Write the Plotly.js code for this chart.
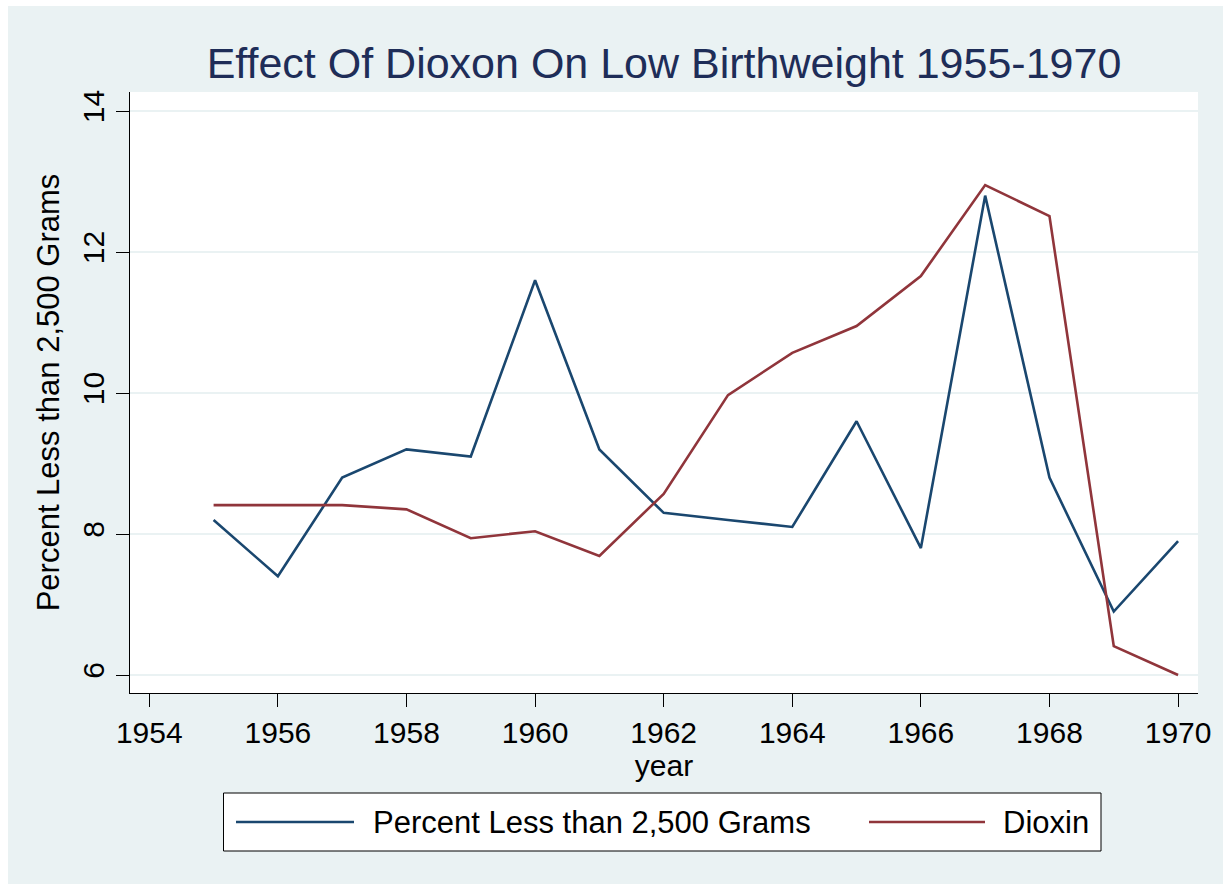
<!DOCTYPE html>
<html>
<head>
<meta charset="utf-8">
<script src="https://cdn.plot.ly/plotly-3.0.1.min.js"></script>
<style>
  html, body { margin: 0; padding: 0; background: #ffffff; }
  #chart { position: absolute; left: 8px; top: 6px; width: 1215px; height: 878px; }
</style>
</head>
<body>
<div id="chart"></div>
<script>
// ---- data ----
const years = [1955, 1956, 1957, 1958, 1959, 1960, 1961, 1962, 1963, 1964, 1965, 1966, 1967, 1968, 1969, 1970];
const pctLowBirthweight = [8.2, 7.4, 8.8, 9.2, 9.1, 11.6, 9.2, 8.3, 8.2, 8.1, 9.6, 7.8, 12.8, 8.8, 6.9, 7.9];
const dioxin = [8.41, 8.41, 8.41, 8.35, 7.94, 8.04, 7.69, 8.57, 9.97, 10.57, 10.95, 11.66, 12.95, 12.51, 6.41, 6.0];
const seriesNames = ["Percent Less than 2,500 Grams", "Dioxin"];
const seriesColors = ["#1a476f", "#90353b"];
const yTickVals = [6, 8, 10, 12, 14];
const xTickVals = [1954, 1956, 1958, 1960, 1962, 1964, 1966, 1968, 1970];
const chartTitle = "Effect Of Dioxon On Low Birthweight 1955-1970";
const xTitle = "year";
const yTitle = "Percent Less than 2,500 Grams";

// ---- layout geometry ----
const W = 1215, H = 878, OX = 8, OY = 6;
const M = { l: 122, r: 25, t: 86, b: 191 };
const PW = W - M.l - M.r, PH = H - M.t - M.b;
// page pixel -> paper fraction (for legend box drawing)
const px = x => (x - OX - M.l) / PW;
const py = y => (H - M.b + OY - y) / PH;

const FONT = "Liberation Sans, Arial, Helvetica, sans-serif";
const BG = "#eaf2f3";

const traces = [
  { x: years, y: pctLowBirthweight, name: seriesNames[0], type: "scatter", mode: "lines",
    line: { color: seriesColors[0], width: 2.6 }, showlegend: false },
  { x: years, y: dioxin, name: seriesNames[1], type: "scatter", mode: "lines",
    line: { color: seriesColors[1], width: 2.6 }, showlegend: false }
];

// legend (Stata style: long line samples in a bordered box)
const legendBox = { x0: px(223.5), x1: px(1101), y0: py(851), y1: py(793) };
const legendY = py(822);
const legendItems = [
  { l0: px(236), l1: px(354), tx: px(371) },
  { l0: px(869), l1: px(985), tx: px(1001) }
];
const shapes = [
  { type: "rect", xref: "paper", yref: "paper", x0: legendBox.x0, x1: legendBox.x1, y0: legendBox.y0, y1: legendBox.y1,
    line: { color: "#000000", width: 1 }, fillcolor: "#ffffff", layer: "below" }
];
const annotations = [];
legendItems.forEach((it, i) => {
  shapes.push({ type: "line", xref: "paper", yref: "paper", x0: it.l0, x1: it.l1, y0: legendY, y1: legendY,
    line: { color: seriesColors[i], width: 2.6 } });
  annotations.push({ xref: "paper", yref: "paper", x: it.tx, y: legendY, xanchor: "left", yanchor: "middle",
    text: seriesNames[i], showarrow: false, font: { family: FONT, size: 31, color: "#000000" } });
});

const layout = {
  width: W, height: H,
  margin: M,
  paper_bgcolor: BG,
  plot_bgcolor: "#ffffff",
  showlegend: false,
  title: { text: chartTitle, x: 0.5, xref: "paper", xanchor: "center",
           y: 1 - 57 / H, yref: "container", yanchor: "middle",
           font: { family: FONT, size: 43, color: "#1e2d58" } },
  xaxis: {
    range: [1953.70, 1970.31], tickvals: xTickVals, ticktext: xTickVals.map(String),
    showgrid: false, zeroline: false,
    showline: true, linecolor: "#000000", linewidth: 1, mirror: false,
    ticks: "outside", ticklen: 13, tickwidth: 1, tickcolor: "#000000",
    tickfont: { family: FONT, size: 30, color: "#000000" },
    title: { text: xTitle, standoff: 0, font: { family: FONT, size: 30, color: "#000000" } }
  },
  yaxis: {
    range: [5.745, 14.27], tickvals: yTickVals, ticktext: yTickVals.map(String),
    tickangle: -90,
    showgrid: true, gridcolor: BG, gridwidth: 2.5, zeroline: false,
    showline: true, linecolor: "#000000", linewidth: 1, mirror: false,
    ticks: "outside", ticklen: 13, tickwidth: 1, tickcolor: "#000000",
    tickfont: { family: FONT, size: 30, color: "#000000" },
    title: { text: yTitle, standoff: 8, font: { family: FONT, size: 31, color: "#000000" } }
  },
  shapes: shapes,
  annotations: annotations
};

Plotly.newPlot("chart", traces, layout, { displayModeBar: false, staticPlot: true });
</script>
</body>
</html>
